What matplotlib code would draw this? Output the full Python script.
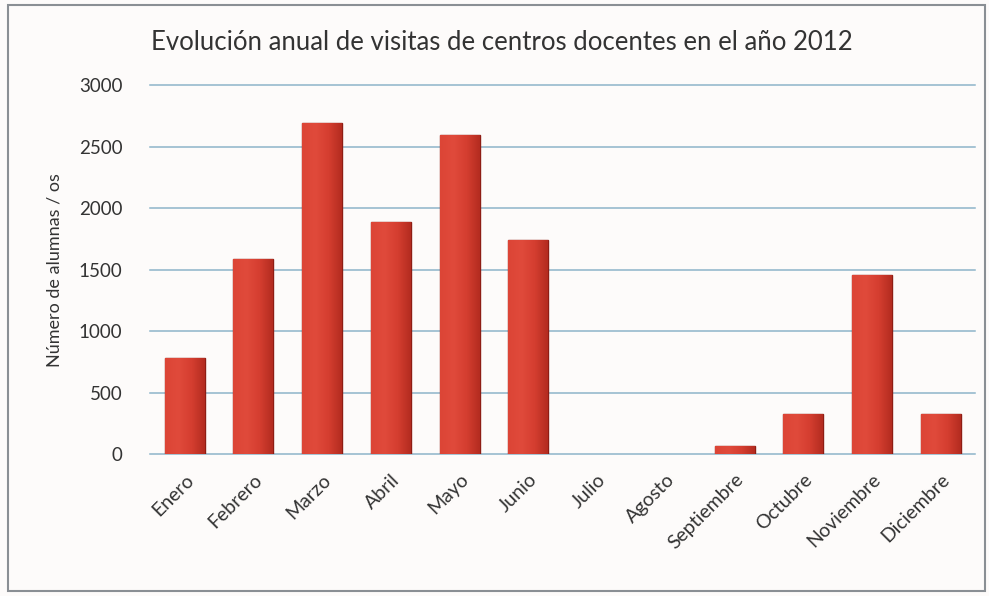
import numpy as np
import matplotlib
matplotlib.use('Agg')
import matplotlib.pyplot as plt
from matplotlib.patches import Rectangle
from matplotlib.colors import LinearSegmentedColormap

meses = ['Enero', 'Febrero', 'Marzo', 'Abril', 'Mayo', 'Junio', 'Julio',
         'Agosto', 'Septiembre', 'Octubre', 'Noviembre', 'Diciembre']
visitas = [780, 1585, 2690, 1885, 2595, 1740, 0, 0, 65, 330, 1460, 330]
yticks = [0, 500, 1000, 1500, 2000, 2500, 3000]

plt.rcParams['font.family'] = ['Lato', 'DejaVu Sans']

fig = plt.figure(figsize=(9.89, 5.96), dpi=100)
fig.patch.set_facecolor('#fdfbfa')
# marco gris
fig.add_artist(Rectangle((0.008, 0.008), 0.988, 0.984, transform=fig.transFigure,
                         fill=False, edgecolor='#8a8f94', linewidth=1.5))

ax = fig.add_axes([0.152, 0.238, 0.834, 0.619])
ax.set_facecolor('none')
x = np.arange(len(meses))
bordes = ['#8e1d14' if v > 0 else 'none' for v in visitas]
bars = ax.bar(x, visitas, width=0.58, color='#d8402f', edgecolor=bordes, linewidth=1.0, zorder=3)

# degradado horizontal suave en cada barra
cmap = LinearSegmentedColormap.from_list('rojo', ['#dc4536', '#e04a3b', '#d53e30', '#b42c20'])
grad = np.linspace(0, 1, 64).reshape(1, -1)
for b in bars:
    if b.get_height() <= 0:
        continue
    im = ax.imshow(grad, cmap=cmap, aspect='auto', zorder=3.5,
                   extent=[b.get_x(), b.get_x() + b.get_width(), 0, b.get_height()])
    im.set_clip_path(b)

ax.set_xlim(-0.5, len(meses) - 0.5)
ax.set_ylim(0, 3000)
ax.set_yticks(yticks)
ax.set_yticklabels([str(t) for t in yticks], fontsize=13.5, color='#333333')
ax.set_xticks(x)
ax.set_xticklabels(meses, rotation=45, ha='right', rotation_mode='anchor', fontsize=14, color='#333333')
ax.tick_params(length=0, pad=20)
ax.tick_params(axis='x', pad=12)
ax.grid(axis='y', color='#8db4c9', linewidth=1.1, zorder=0)
for gl in ax.yaxis.get_gridlines():
    gl.set_clip_on(False)
for s in ax.spines.values():
    s.set_visible(False)

ax.set_ylabel('Número de alumnas / os', fontsize=13, color='#333333', labelpad=12)
fig.text(0.507, 0.928, 'Evolución anual de visitas de centros docentes en el año 2012',
         ha='center', va='center', fontsize=18.5, color='#333333')

plt.savefig('out.png', dpi=100, facecolor=fig.get_facecolor())
